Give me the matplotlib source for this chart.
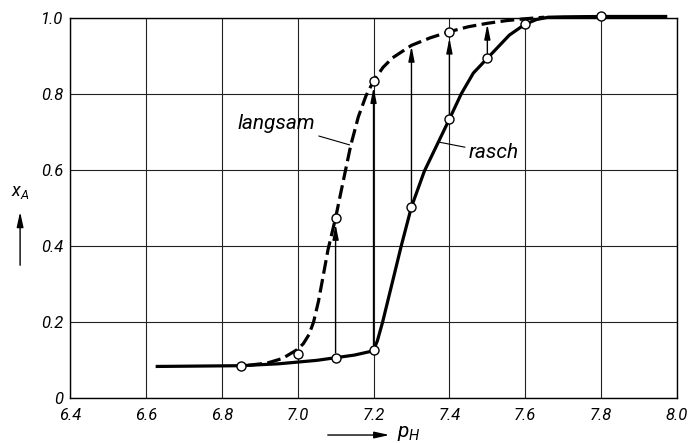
import matplotlib
matplotlib.use('Agg')
import matplotlib.pyplot as plt

plt.rcParams['font.family'] = ['Roboto', 'DejaVu Sans']
plt.rcParams['font.style'] = 'italic'
plt.rcParams['mathtext.fontset'] = 'custom'
plt.rcParams['mathtext.rm'] = 'Roboto:italic'
plt.rcParams['mathtext.it'] = 'Roboto:italic'

# rasch (fast) - curve
rasch_ph = [6.63, 6.85, 6.95, 7.05, 7.1, 7.15, 7.19, 7.2, 7.21, 7.224, 7.251, 7.273,
            7.3, 7.334, 7.4, 7.431, 7.463, 7.5, 7.558, 7.6, 7.63, 7.66, 7.7, 7.8, 7.97]
rasch_x = [0.083, 0.085, 0.09, 0.099, 0.106, 0.113, 0.122, 0.126, 0.15, 0.2, 0.31, 0.40,
           0.503, 0.597, 0.734, 0.8, 0.855, 0.894, 0.955, 0.984, 0.996, 1.002, 1.003, 1.004, 1.004]

# langsam (slow) - dashed curve
langsam_ph = [6.87, 6.92, 6.96, 7.0, 7.015, 7.03, 7.042, 7.055, 7.068, 7.08, 7.1, 7.12, 7.14,
              7.16, 7.18, 7.2, 7.225, 7.25, 7.3, 7.35, 7.4, 7.45, 7.5, 7.55, 7.6, 7.65]
langsam_x = [0.086, 0.092, 0.104, 0.128, 0.143, 0.167, 0.2, 0.255, 0.325, 0.39, 0.474, 0.57,
             0.665, 0.74, 0.795, 0.834, 0.87, 0.895, 0.928, 0.948, 0.964, 0.977, 0.986, 0.993,
             0.998, 1.002]

# measured points (open circles)
rasch_pts_ph = [6.85, 7.1, 7.2, 7.3, 7.4, 7.5, 7.6, 7.8]
rasch_pts_x = [0.085, 0.106, 0.126, 0.503, 0.734, 0.894, 0.984, 1.004]
langsam_pts_ph = [7.0, 7.1, 7.2, 7.4]
langsam_pts_x = [0.115, 0.474, 0.834, 0.964]

# vertical arrows from rasch to langsam
arrow_ph = [7.1, 7.2, 7.3, 7.4, 7.5]
arrow_from = [0.106, 0.126, 0.503, 0.734, 0.894]
arrow_to = [0.474, 0.834, 0.928, 0.964, 0.986]

xticks = [6.4, 6.6, 6.8, 7.0, 7.2, 7.4, 7.6, 7.8, 8.0]
yticks = [0, 0.2, 0.4, 0.6, 0.8, 1.0]
ytick_labels = ['0', '0.2', '0.4', '0.6', '0.8', '1.0']

fig = plt.figure(figsize=(6.93, 4.43), dpi=100)
ax = fig.add_axes([0.101, 0.1016, 0.876, 0.8578])

ax.set_xlim(6.4, 8.0)
ax.set_ylim(0, 1.0)
ax.set_xticks(xticks)
ax.set_xticklabels([f'{t:.1f}' for t in xticks])
ax.set_yticks(yticks)
ax.set_yticklabels(ytick_labels)
ax.tick_params(length=0, labelsize=12, pad=7)
ax.tick_params(axis='y', pad=5)
ax.grid(True, color='#222222', lw=0.8)
for s in ax.spines.values():
    s.set_linewidth(1.0)

ax.plot(rasch_ph, rasch_x, color='k', lw=2.3, clip_on=False, zorder=3)
ax.plot(langsam_ph, langsam_x, color='k', lw=2.3, dashes=(4.3, 1.7), clip_on=False, zorder=3)

for p, a, b in zip(arrow_ph, arrow_from, arrow_to):
    end_circle = any(abs(p - q) < 1e-6 and abs(b - v) < 1e-6
                     for q, v in zip(langsam_pts_ph, langsam_pts_x))
    ax.annotate('', xy=(p, b), xytext=(p, a),
                arrowprops=dict(arrowstyle='-|>,head_length=0.9,head_width=0.18',
                                color='k', lw=1.0, shrinkA=3.5,
                                shrinkB=4.5 if end_circle else 0.5),
                zorder=4)

ax.plot(rasch_pts_ph, rasch_pts_x, 'o', ms=6.5, mfc='white', mec='k', mew=1.0,
        clip_on=False, zorder=5)
ax.plot(langsam_pts_ph, langsam_pts_x, 'o', ms=6.5, mfc='white', mec='k', mew=1.0,
        clip_on=False, zorder=5)

# curve labels with leader lines
ax.annotate('langsam', xy=(7.137, 0.666), xytext=(7.045, 0.722), fontsize=15,
            ha='right', va='center',
            arrowprops=dict(arrowstyle='-', color='k', lw=0.8, shrinkA=1, shrinkB=0))
ax.annotate('rasch', xy=(7.369, 0.674), xytext=(7.452, 0.645), fontsize=15,
            ha='left', va='center',
            arrowprops=dict(arrowstyle='-', color='k', lw=0.8, shrinkA=1, shrinkB=0))

# axis labels with arrows
fig.text(0.029, 0.567, '$x_A$', fontsize=13, ha='center', va='center')
fig.add_artist(matplotlib.patches.FancyArrowPatch(
    (0.029, 0.395), (0.029, 0.528), transform=fig.transFigure,
    arrowstyle='-|>,head_length=0.9,head_width=0.2', mutation_scale=10,
    color='k', lw=1.0))
fig.add_artist(matplotlib.patches.FancyArrowPatch(
    (0.469, 0.018), (0.566, 0.018), transform=fig.transFigure,
    arrowstyle='-|>,head_length=0.9,head_width=0.2', mutation_scale=10,
    color='k', lw=1.0))
fig.text(0.573, 0.022, '$p_H$', fontsize=15, ha='left', va='center')

fig.savefig('out.png', dpi=100)
